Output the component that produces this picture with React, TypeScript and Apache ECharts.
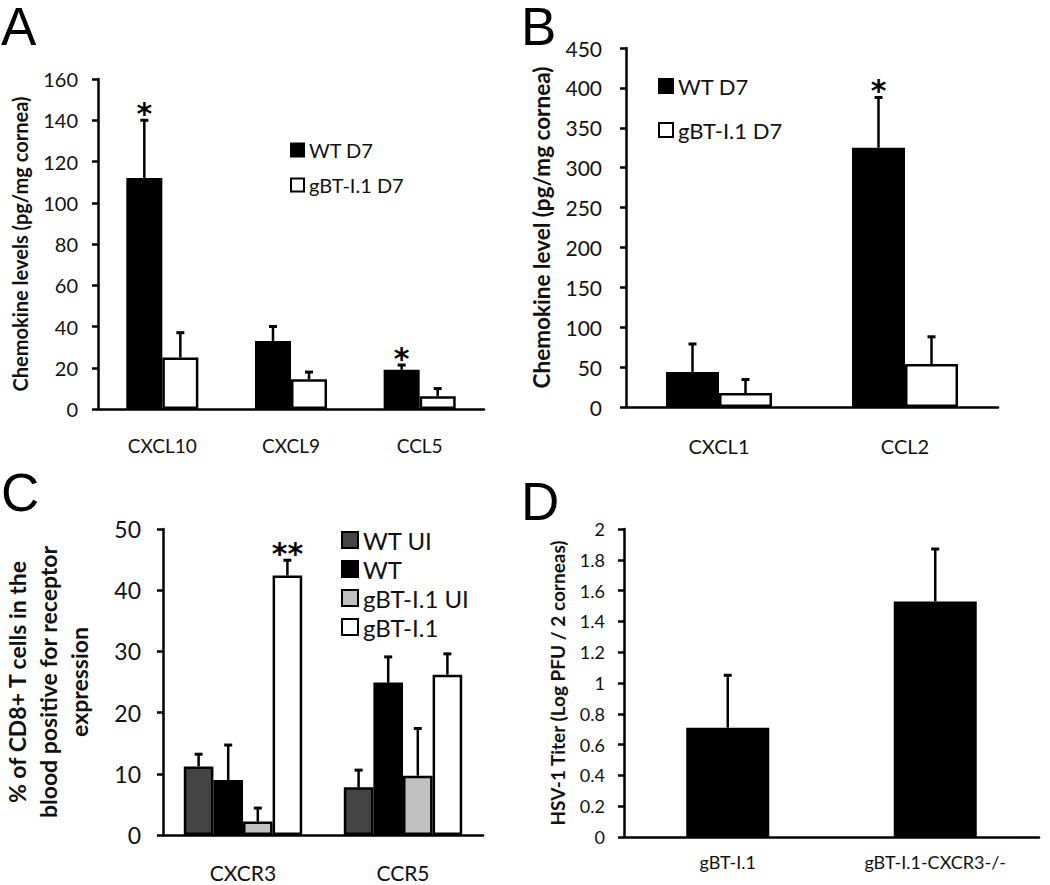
import React, { useEffect, useRef } from "react";
import * as echarts from "echarts";

// ---------- Panel A ----------
const catsA = ["CXCL10", "CXCL9", "CCL5"];
const aWT = [112, 33, 19];
const aWTErr = [28, 7, 2.3];
const aWTSig = ["*", "", "*"];
const aGBT = [25, 14.4, 6.2];
const aGBTErr = [12, 3.5, 3.7];
const aGBTSig = ["", "", ""];

// ---------- Panel B ----------
const catsB = ["CXCL1", "CCL2"];
const bWT = [44, 325];
const bWTErr = [35, 63];
const bWTSig = ["", "*"];
const bGBT = [17.5, 54];
const bGBTErr = [17, 34];
const bGBTSig = ["", ""];

// ---------- Panel C ----------
const catsC = ["CXCR3", "CCR5"];
const cWTUI = [11.2, 7.8];
const cWTUIErr = [2, 2.8];
const cWT = [9, 24.9];
const cWTErr = [5.7, 4.2];
const cGBTUI = [2.2, 9.7];
const cGBTUIErr = [2.2, 7.7];
const cGBT = [42.4, 26.2];
const cGBTErr = [2.5, 3.4];
const cGBTSig = ["**", ""];

// ---------- Panel D ----------
const catsD = ["gBT-I.1", "gBT-I.1-CXCR3-/-"];
const dTiter = [0.71, 1.53];
const dTiterErr = [0.34, 0.34];

const FONT = "Lato";
const TXT = "#111";

function errSeries(
  gi: number,
  values: number[],
  errs: number[],
  sig: string[] | null,
  groupIndex: number,
  groupCount: number,
  gapFrac: number,
  starSize: number
) {
  return {
    type: "custom",
    xAxisIndex: gi,
    yAxisIndex: gi,
    silent: true,
    z: 5,
    data: values.map((v, i) => [i, v, errs[i]]),
    encode: { x: 0, y: 1 },
    renderItem: (params: any, api: any) => {
      const i = api.value(0);
      const v = api.value(1);
      const e = api.value(2);
      const band = api.size([1, 0])[0];
      const barW = (band * (1 - gapFrac)) / groupCount;
      const off = (-band * (1 - gapFrac)) / 2 + (groupIndex + 0.5) * barW;
      const base = api.coord([i, v]);
      const top = api.coord([i, v + e]);
      const x = base[0] + off;
      const children: any[] = [
        {
          type: "line",
          shape: { x1: x, y1: base[1], x2: x, y2: top[1] },
          style: { stroke: "#000", lineWidth: 2.5 },
        },
        {
          type: "line",
          shape: { x1: x - 4, y1: top[1], x2: x + 4, y2: top[1] },
          style: { stroke: "#000", lineWidth: 3 },
        },
      ];
      const s = sig ? sig[params.dataIndex] : "";
      if (s) {
        children.push({
          type: "text",
          x,
          y: top[1] + 8,
          style: {
            text: s,
            fontSize: starSize,
            fontWeight: "bold",
            fontFamily: "DejaVu Sans",
            fill: "#000",
            align: "center",
            verticalAlign: "bottom",
          },
        });
      }
      return { type: "group", children };
    },
  };
}

function xAx(gi: number, data: string[], fontSize: number, margin: number) {
  return {
    type: "category",
    gridIndex: gi,
    data,
    axisLine: { lineStyle: { color: "#000", width: 2.5 } },
    axisTick: { length: 7, lineStyle: { color: "#000", width: 2.5 } },
    axisLabel: { fontSize, margin, color: TXT, fontFamily: FONT },
  };
}

function yAx(
  gi: number,
  min: number,
  max: number,
  interval: number,
  fontSize: number,
  margin: number,
  name: string,
  nameSize: number,
  nameGap: number,
  lineHeight?: number
) {
  return {
    type: "value",
    gridIndex: gi,
    min,
    max,
    interval,
    axisLine: { show: true, lineStyle: { color: "#000", width: 2.5 } },
    axisTick: { show: true, length: 6, lineStyle: { color: "#000", width: 2.5 } },
    splitLine: { show: false },
    axisLabel: { fontSize, margin, color: TXT, fontFamily: FONT },
    name,
    nameLocation: "middle",
    nameRotate: 90,
    nameGap,
    nameTextStyle: {
      fontSize: nameSize,
      fontWeight: "bold",
      color: TXT,
      fontFamily: FONT,
      align: "center",
      lineHeight: lineHeight || nameSize * 1.2,
    },
  };
}

function bar(gi: number, name: string, data: number[], color: string, gap: string) {
  return {
    type: "bar",
    name,
    xAxisIndex: gi,
    yAxisIndex: gi,
    data,
    barGap: "0%",
    barCategoryGap: gap,
    itemStyle: { color, borderColor: "#000", borderWidth: 2.5 },
  };
}

export default function App() {
  const ref = useRef<HTMLDivElement>(null);
  useEffect(() => {
    if (!ref.current) return;
    const chart = echarts.init(ref.current, undefined, { renderer: "svg" });
    const letter = (t: string, x: number, y: number) => ({
      type: "text",
      left: x,
      top: y,
      style: {
        text: t,
        fontSize: 53,
        fontFamily: "Liberation Sans",
        fill: "#000",
      },
    });
    chart.setOption({
      animation: false,
      backgroundColor: "#fff",
      grid: [
        { left: 98, top: 79, width: 386, height: 330 },
        { left: 626, top: 48, width: 372, height: 359 },
        { left: 163, top: 529, width: 320, height: 306 },
        { left: 624, top: 529, width: 415, height: 308 },
      ],
      legend: [
        {
          orient: "vertical",
          left: 290,
          top: 140,
          padding: 0,
          itemWidth: 13,
          itemHeight: 13,
          itemGap: 15,
          icon: "rect",
          textStyle: { fontSize: 20, color: TXT, fontFamily: FONT },
          data: ["WT D7", "gBT-I.1 D7"],
        },
        {
          orient: "vertical",
          left: 658,
          top: 75,
          padding: 0,
          itemWidth: 14,
          itemHeight: 14,
          itemGap: 22,
          icon: "rect",
          textStyle: { fontSize: 22, color: TXT, fontFamily: FONT },
          data: ["WT D7", "gBT-I.1 D7"],
        },
        {
          orient: "vertical",
          left: 341,
          top: 528,
          padding: 0,
          itemWidth: 16,
          itemHeight: 16,
          itemGap: 5,
          icon: "rect",
          textStyle: { fontSize: 24, color: TXT, fontFamily: FONT },
          data: ["WT UI", "WT", "gBT-I.1 UI", "gBT-I.1"],
        },
      ],
      xAxis: [
        xAx(0, catsA, 19, 27),
        xAx(1, catsB, 20, 29),
        xAx(2, catsC, 21, 27),
        xAx(3, catsD, 18, 16),
      ],
      yAxis: [
        yAx(0, 0, 160, 20, 20, 20, "Chemokine levels (pg/mg cornea)", 20, 66),
        yAx(1, 0, 450, 50, 21, 24, "Chemokine level (pg/mg cornea)", 22.5, 71),
        yAx(
          2,
          0,
          50,
          10,
          23,
          22,
          "% of CD8+ T cells in the\nblood positive for receptor\nexpression",
          23,
          69,
          31
        ),
        yAx(3, 0, 2, 0.2, 18, 19, "HSV-1 Titer (Log PFU / 2 corneas)", 19, 55),
      ],
      graphic: [
        letter("A", 1, 0),
        letter("B", 521, 0),
        letter("C", 1, 466),
        letter("D", 521, 475),
      ],
      series: [
        bar(0, "WT D7", aWT, "#000", "44%"),
        bar(0, "gBT-I.1 D7", aGBT, "#fff", "44%"),
        errSeries(0, aWT, aWTErr, aWTSig, 0, 2, 0.44, 30),
        errSeries(0, aGBT, aGBTErr, aGBTSig, 1, 2, 0.44, 30),

        bar(1, "WT D7", bWT, "#000", "43%"),
        bar(1, "gBT-I.1 D7", bGBT, "#fff", "43%"),
        errSeries(1, bWT, bWTErr, bWTSig, 0, 2, 0.43, 30),
        errSeries(1, bGBT, bGBTErr, bGBTSig, 1, 2, 0.43, 30),

        bar(2, "WT UI", cWTUI, "#444", "26%"),
        bar(2, "WT", cWT, "#000", "26%"),
        bar(2, "gBT-I.1 UI", cGBTUI, "#c0c0c0", "26%"),
        bar(2, "gBT-I.1", cGBT, "#fff", "26%"),
        errSeries(2, cWTUI, cWTUIErr, null, 0, 4, 0.26, 30),
        errSeries(2, cWT, cWTErr, null, 1, 4, 0.26, 30),
        errSeries(2, cGBTUI, cGBTUIErr, null, 2, 4, 0.26, 30),
        errSeries(2, cGBT, cGBTErr, cGBTSig, 3, 4, 0.26, 30),

        bar(3, "HSV-1 Titer", dTiter, "#000", "60%"),
        errSeries(3, dTiter, dTiterErr, null, 0, 1, 0.6, 30),
      ],
    });
    return () => chart.dispose();
  }, []);
  return (
    <div
      ref={ref}
      style={{ position: "absolute", left: 0, top: 0, width: 1050, height: 885 }}
    />
  );
}
